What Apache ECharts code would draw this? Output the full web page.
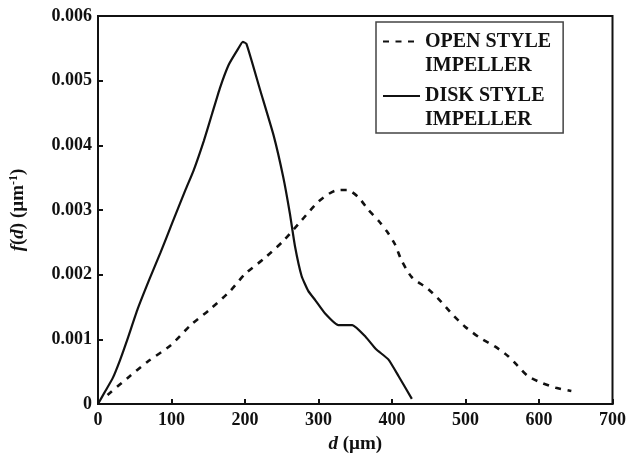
<!DOCTYPE html>
<html>
<head>
<meta charset="utf-8">
<script src="https://cdn.jsdelivr.net/npm/echarts@6/dist/echarts.min.js"></script>
<style>html,body{margin:0;padding:0;background:#fff}#c{width:629px;height:459px}</style>
</head>
<body>
<div id="c"></div>
<script>
var seriesNames = ['OPEN STYLE\nIMPELLER', 'DISK STYLE\nIMPELLER'];
var xTicks = [0, 100, 200, 300, 400, 500, 600, 700];
var yTickLabels = ['0', '0.001', '0.002', '0.003', '0.004', '0.005', '0.006'];
var openStyle = [
  [13, 0.00014], [40, 0.0004], [67, 0.00065], [99, 0.00091], [126, 0.00122],
  [153, 0.00147], [180, 0.00175], [200, 0.00201], [225, 0.00224], [252, 0.00252],
  [277, 0.00284], [300, 0.00313], [323, 0.0033], [339, 0.00331],
  [354, 0.0032], [368, 0.003], [382, 0.00283], [393, 0.00267], [404, 0.00247],
  [413, 0.00222], [427, 0.00196], [449, 0.00178], [467, 0.00158], [481, 0.0014],
  [499, 0.0012], [520, 0.00102], [540, 0.00089], [558, 0.00074], [571, 0.00059],
  [585, 0.00043], [603, 0.00033], [623, 0.00025], [644, 0.0002]
];
var diskStyle = [
  [0, 0], [10, 0.0002], [20, 0.0004], [30, 0.00068], [40, 0.001], [54, 0.00147],
  [70, 0.00193], [85, 0.00234], [101, 0.0028], [119, 0.00331], [130, 0.00361],
  [144, 0.00407], [155, 0.00448], [166, 0.00489], [178, 0.00525], [191, 0.0055],
  [197, 0.0056], [202, 0.00557], [221, 0.00484], [239, 0.00415], [252, 0.00351],
  [261, 0.00295], [268, 0.00244], [277, 0.00198], [286, 0.00175], [296, 0.0016],
  [309, 0.0014], [327, 0.00122], [346, 0.00122],
  [364, 0.00104], [378, 0.00085], [395, 0.00069], [409, 0.00043], [427, 0.00008]
];

var FONT = "'Liberation Serif','Times New Roman',serif";
var chart = echarts.init(document.getElementById('c'), null, {renderer: 'canvas'});
chart.setOption({
  animation: false,
  backgroundColor: '#fff',
  grid: {left: 98, right: 14, top: 16, bottom: 51, show: true, borderColor: '#111', borderWidth: 2, backgroundColor: 'transparent'},
  legend: {
    left: 376, top: 22,
    orient: 'vertical',
    data: seriesNames,
    itemWidth: 37, itemHeight: 14, itemGap: -17.5,
    padding: [-16.5, 12, 1, 6],
    borderColor: '#444', borderWidth: 1.5,
    backgroundColor: '#fff',
    itemStyle: {color: 'rgba(0,0,0,0)', borderWidth: 0, opacity: 0},
    formatter: function (name) { return '\n' + name; },
    textStyle: {fontFamily: FONT, fontWeight: 'bold', fontSize: 20, color: '#111', lineHeight: 24}
  },
  xAxis: {
    type: 'value', min: 0, max: 700, interval: 100,
    name: '{i|d} (µm)', nameLocation: 'middle', nameGap: 31,
    nameTextStyle: {fontFamily: FONT, fontWeight: 'bold', fontSize: 19, color: '#111',
      rich: {i: {fontFamily: FONT, fontWeight: 'bold', fontStyle: 'italic', fontSize: 19, color: '#111'}}},
    axisLine: {show: true, onZero: false, lineStyle: {color: '#111', width: 2}},
    axisTick: {show: true, inside: true, length: 5, lineStyle: {color: '#111', width: 2}},
    axisLabel: {fontFamily: FONT, fontWeight: 'bold', fontSize: 18, color: '#111', margin: 7,
      formatter: function (v) { return String(xTicks[Math.round(v / 100)]); }},
    splitLine: {show: false}
  },
  yAxis: {
    type: 'value', min: 0, max: 0.006, interval: 0.001,
    name: '{i|f}({i|d}) (µm{s|-1})', nameLocation: 'middle', nameGap: 70,
    nameTextStyle: {fontFamily: FONT, fontWeight: 'bold', fontSize: 19, color: '#111',
      rich: {
        i: {fontFamily: FONT, fontWeight: 'bold', fontStyle: 'italic', fontSize: 19, color: '#111'},
        s: {fontFamily: FONT, fontWeight: 'bold', fontSize: 12, color: '#111', padding: [0, 0, 8, 0]}
      }},
    axisLine: {show: true, lineStyle: {color: '#111', width: 2}},
    axisTick: {show: true, inside: true, length: 5, lineStyle: {color: '#111', width: 2}},
    axisLabel: {fontFamily: FONT, fontWeight: 'bold', fontSize: 18, color: '#111', margin: 6,
      formatter: function (v) { return yTickLabels[Math.round(v / 0.001)]; }},
    splitLine: {show: false}
  },
  series: [
    {name: seriesNames[0], type: 'line', data: openStyle, symbol: 'none', smooth: 0.25,
      lineStyle: {color: '#111', width: 2.6, type: [6, 6.5]}, itemStyle: {color: '#111'}},
    {name: seriesNames[1], type: 'line', data: diskStyle, symbol: 'none', smooth: 0.15,
      lineStyle: {color: '#111', width: 2.2, type: 'solid'}, itemStyle: {color: '#111'}}
  ]
});
</script>
</body>
</html>
